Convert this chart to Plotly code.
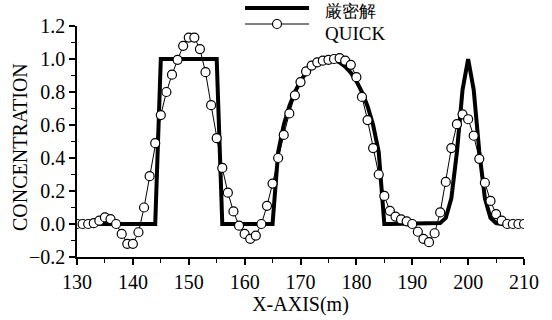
import plotly.graph_objects as go

# ---- data ----
x_vals = list(range(130, 211))

exact_vals = [
    0, 0, 0, 0, 0, 0, 0, 0, 0, 0,            # 130-139
    0, 0, 0, 0, 0,                           # 140-144
    1, 1, 1, 1, 1, 1, 1, 1, 1, 1, 1,         # 145-155
    0, 0, 0, 0, 0, 0, 0, 0, 0, 0,            # 156-165
    0.436, 0.6, 0.714, 0.8, 0.866, 0.917, 0.954, 0.98, 0.995, 1.0,   # 166-175
    0.995, 0.98, 0.954, 0.917, 0.866, 0.8, 0.714, 0.6, 0.436,        # 176-184
    0, 0, 0, 0, 0, 0, 0, 0, 0, 0,            # 185-194
    0.006, 0.037, 0.156, 0.438, 0.813, 1.0, 0.813, 0.438, 0.156, 0.037, 0.006,  # 195-205
    0, 0, 0, 0, 0,                           # 206-210
]

quick_vals = [
    0.0, 0.0, 0.0, 0.005, 0.02, 0.04, 0.03, 0.0, -0.06, -0.12,       # 130-139
    -0.12, -0.05, 0.10, 0.29, 0.49, 0.66, 0.80, 0.905, 0.995, 1.08,  # 140-149
    1.13, 1.13, 1.06, 0.92, 0.72, 0.52, 0.34, 0.19, 0.076, -0.01,    # 150-159
    -0.06, -0.09, -0.07, 0.0, 0.11, 0.245, 0.40, 0.54, 0.67, 0.78,   # 160-169
    0.86, 0.925, 0.96, 0.98, 0.99, 0.995, 1.0, 1.005, 0.99, 0.965,   # 170-179
    0.89, 0.77, 0.63, 0.46, 0.30, 0.17, 0.08, 0.045, 0.028, 0.016,   # 180-189
    0.0, -0.047, -0.09, -0.11, -0.056, 0.07, 0.255, 0.46, 0.605, 0.665,  # 190-199
    0.635, 0.535, 0.395, 0.25, 0.14, 0.06, 0.02, 0.0, 0.0, 0.0,      # 200-209
    0.0,                                                             # 210
]

series_names = ["厳密解", "QUICK"]
x_title = "X-AXIS(m)"
y_title = "CONCENTRATION"

# ---- layout geometry (window pixels) ----
W, H = 552, 320
L, R, T, B = 77, 524, 26, 257


def px_x(p):
    return (p - L) / (R - L)


def px_y(p):
    return (B - p) / (B - T)


SERIF = "Liberation Serif"

fig = go.Figure()
fig.add_trace(go.Scatter(
    x=x_vals, y=exact_vals, mode="lines", name=series_names[0],
    line=dict(color="black", width=4), showlegend=False,
))
fig.add_trace(go.Scatter(
    x=x_vals, y=quick_vals, mode="lines+markers", name=series_names[1],
    line=dict(color="black", width=1),
    marker=dict(symbol="circle", size=9, color="white",
                line=dict(color="black", width=1.2)),
    showlegend=False,
))

axis_common = dict(
    showgrid=False, zeroline=False, showline=True, linecolor="black",
    linewidth=1.5, ticks="outside", tickcolor="black", tickwidth=1.5,
    ticklen=6, tickfont=dict(family=SERIF, size=20, color="black"),
    mirror=False, automargin=False,
)

fig.update_xaxes(
    range=[130, 210], tick0=130, dtick=10,
    minor=dict(dtick=5, ticks="outside", ticklen=4, tickcolor="black", tickwidth=1.2),
    title=dict(text=x_title, font=dict(family=SERIF, size=20, color="black"), standoff=3),
    **axis_common,
)
fig.update_yaxes(
    range=[-0.2, 1.2], tick0=0, dtick=0.2, tickformat=".1f",
    minor=dict(dtick=0.1, ticks="outside", ticklen=4, tickcolor="black", tickwidth=1.2),
    **axis_common,
)

# ---- manual legend ----
shapes = [
    dict(type="line", xref="paper", yref="paper",
         x0=px_x(245), x1=px_x(309), y0=px_y(8), y1=px_y(8),
         line=dict(color="black", width=4)),
    dict(type="line", xref="paper", yref="paper",
         x0=px_x(245), x1=px_x(309), y0=px_y(24), y1=px_y(24),
         line=dict(color="black", width=1)),
    dict(type="circle", xref="paper", yref="paper",
         xsizemode="pixel", ysizemode="pixel",
         xanchor=px_x(277), yanchor=px_y(24),
         x0=-4.5, x1=4.5, y0=-4.5, y1=4.5,
         fillcolor="white", line=dict(color="black", width=1.2)),
]
annotations = [
    dict(text=series_names[0], xref="paper", yref="paper",
         x=px_x(324), y=px_y(22), xanchor="left", yanchor="bottom",
         borderpad=0, showarrow=False,
         font=dict(family=SERIF, size=17, color="black")),
    dict(text=series_names[1], xref="paper", yref="paper",
         x=px_x(324), y=px_y(22), xanchor="left", yanchor="top",
         borderpad=0, showarrow=False,
         font=dict(family=SERIF, size=19, color="black")),
    dict(text=y_title, xref="paper", yref="paper", textangle=-90,
         x=px_x(20), y=px_y(147), xanchor="center", yanchor="middle",
         showarrow=False, font=dict(family=SERIF, size=20, color="black")),
]

fig.update_layout(
    width=W, height=H,
    margin=dict(l=L, r=W - R, t=T, b=H - B, pad=0),
    paper_bgcolor="white", plot_bgcolor="white",
    shapes=shapes, annotations=annotations, showlegend=False,
)

fig.write_html("out.html",
               config={"displayModeBar": False},
               post_script="document.body.style.margin='0px';")
